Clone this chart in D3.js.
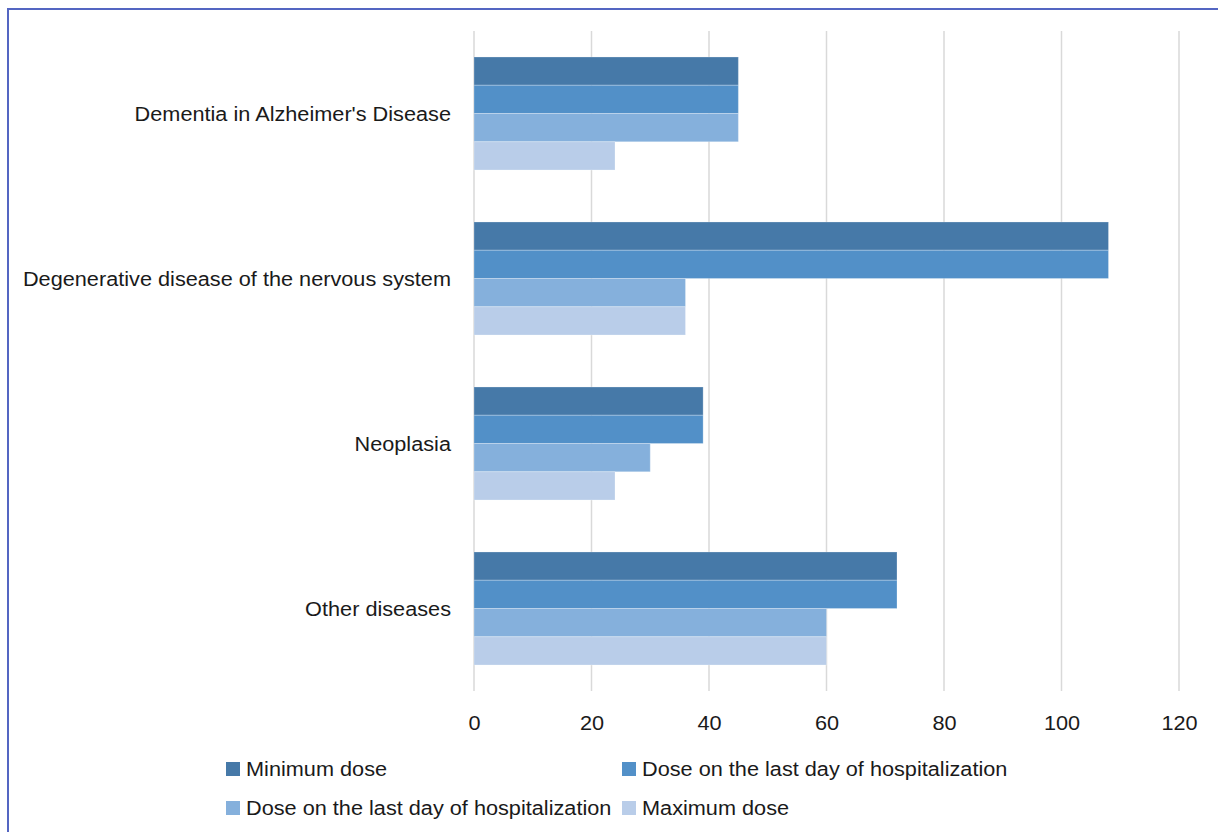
<!DOCTYPE html>
<html>
<head>
<meta charset="utf-8">
<script src="https://cdn.jsdelivr.net/npm/d3@7"></script>
<style>
html,body{margin:0;padding:0;background:#fff;}
svg{display:block;font-family:"Liberation Sans",Arial,sans-serif;}
</style>
</head>
<body>
<svg id="chart" width="1218" height="832"></svg>
<script>
const categories = ["Dementia in Alzheimer's Disease","Degenerative disease of the nervous system","Neoplasia","Other diseases"];
const seriesNames = ["Minimum dose","Dose on the last day of hospitalization","Dose on the last day of hospitalization","Maximum dose"];
const seriesColors = ["#4679a8","#5290c8","#85b0dc","#b9cde9"];
const minimumDose = [45,108,39,72];
const lastDayDoseA = [45,108,39,72];
const lastDayDoseB = [45,36,30,60];
const maximumDose = [24,36,24,60];
const xTicks = [0,20,40,60,80,100,120];

const series = [minimumDose,lastDayDoseA,lastDayDoseB,maximumDose];
const stretch = "scale(1.085,1)";

const svg = d3.select("#chart");
// outer frame
svg.append("rect").attr("x",8).attr("y",9).attr("width",1240).attr("height",860)
  .attr("fill","none").attr("stroke","#5466c2").attr("stroke-width",2);

const plotL=474, plotR=1179, plotT=31, plotB=691;
const x = d3.scaleLinear().domain([0,120]).range([plotL,plotR]);
const y = d3.scaleBand().domain(categories).range([plotT,plotB]).paddingInner(0.315).paddingOuter(0.1575);
const sub = d3.scaleBand().domain(d3.range(series.length)).range([0,y.bandwidth()]);

// gridlines
svg.append("g").selectAll("line").data(xTicks).join("line")
  .attr("x1",d=>x(d)).attr("x2",d=>x(d)).attr("y1",plotT).attr("y2",plotB)
  .attr("stroke","#d9d9d9").attr("stroke-width",1.5);

// bars
const g = svg.append("g");
categories.forEach((c,ci)=>{
  series.forEach((s,si)=>{
    g.append("rect")
      .attr("x",x(0))
      .attr("y",y(c)+sub(si))
      .attr("width",x(s[ci])-x(0))
      .attr("height",sub.bandwidth())
      .attr("fill",seriesColors[si])
      .attr("stroke","rgba(255,255,255,0.25)").attr("stroke-width",1);
  });
});

// x axis labels
const xAxis = d3.axisBottom(x).tickValues(xTicks).tickSize(0).tickPadding(0);
const ax = svg.append("g").attr("transform",`translate(0,${plotB})`).call(xAxis);
ax.select(".domain").remove();
ax.selectAll("text").attr("font-size",20).attr("fill","#1a1a1a").attr("dy","0.35em").attr("y",32)
  .attr("transform",stretch)
  .attr("font-family","Liberation Sans, Arial, sans-serif");

// y labels
const yAxis = d3.axisLeft(y).tickSize(0).tickPadding(0);
const ay = svg.append("g").attr("transform",`translate(451,0)`).call(yAxis);
ay.select(".domain").remove();
ay.selectAll("text").attr("font-size",20).attr("fill","#1a1a1a").attr("x",0).attr("dy","0.35em")
  .attr("transform",stretch)
  .attr("font-family","Liberation Sans, Arial, sans-serif");

// legend
const legendPos = [[226,769],[622,769],[226,808],[622,808]];
const lg = svg.append("g");
seriesNames.forEach((n,i)=>{
  const [lx,ly] = legendPos[i];
  lg.append("rect").attr("x",lx).attr("y",ly-7).attr("width",14).attr("height",14).attr("fill",seriesColors[i]);
  lg.append("g").attr("transform",`translate(${lx+20},${ly}) ${stretch}`)
    .append("text").attr("dy","0.35em").attr("font-size",20).attr("fill","#1a1a1a").text(n);
});
</script>
</body>
</html>
